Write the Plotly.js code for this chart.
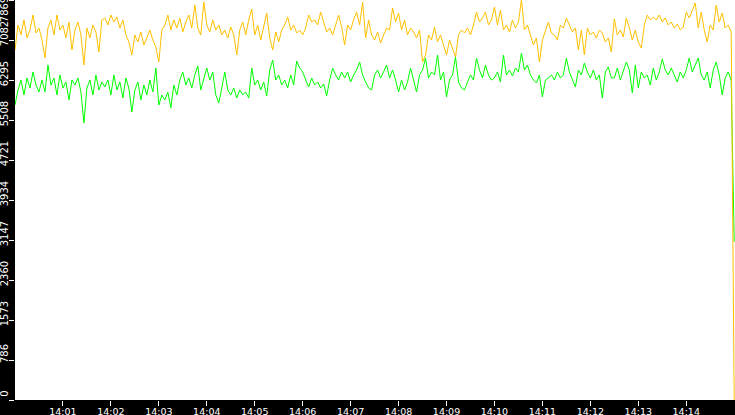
<!DOCTYPE html>
<html>
<head>
<meta charset="utf-8">
<script src="https://cdn.plot.ly/plotly-3.0.1.min.js"></script>
<style>
  html, body { margin: 0; padding: 0; background: #000; }
  #chart { width: 735px; height: 415px; }
</style>
</head>
<body>
<div id="chart"></div>
<script>
// Sampling of the two series (one reading every 3.75 s from 14:00:00)
const DAY = '2024-01-01';
const START_TIME = DAY + ' 14:00:00';
const END_TIME = DAY + ' 14:15:01';
const STEP_SECONDS = 3.75;

// Upper (amber) series values
const amberValues = [
  6886, 7377, 7181, 7476, 7122, 7279, 7574, 7220, 7318, 7082,
  6728, 7318, 7476, 7181, 7574, 7279, 7377, 7122, 7436, 6886,
  7279, 7436, 7181, 6590, 7318, 7122, 7377, 7240, 6846, 7476,
  7515, 7377, 7574, 7436, 7535, 7318, 7476, 7181, 7043, 6787,
  7181, 7043, 7240, 6984, 7122, 7279, 7082, 6944, 6649, 7279,
  7377, 7574, 7279, 7476, 7318, 7515, 7240, 7436, 7574, 7318,
  7771, 7318, 7181, 7830, 7377, 7240, 7476, 7279, 7377, 7181,
  7279, 7122, 7338, 7181, 6787, 7279, 7436, 7181, 7476, 7692,
  7181, 7377, 7082, 7318, 7613, 7122, 6886, 7240, 7043, 7279,
  7377, 7535, 7279, 7377, 7220, 7279, 7181, 7318, 7574, 7436,
  7476, 7377, 7633, 7436, 7240, 7318, 7181, 7377, 7574, 7338,
  6984, 7377, 7279, 7476, 7633, 7377, 7830, 7122, 7476, 7181,
  7082, 7240, 7023, 7181, 7318, 7279, 7712, 7436, 7613, 7279,
  7476, 7181, 7318, 7240, 7122, 7279, 6649, 6787, 7181, 7082,
  7338, 7043, 7181, 6984, 6787, 7082, 6925, 6748, 7181, 7279,
  7220, 7318, 7181, 7377, 7633, 7436, 7515, 7633, 7377, 7476,
  7731, 7377, 7672, 7279, 7377, 7240, 7476, 7318, 7436, 7869,
  7279, 7377, 7181, 6984, 7122, 6649, 7082, 7279, 7436, 7220,
  7181, 7082, 7377, 7318, 7515, 7377, 7240, 7318, 6886, 7279,
  6787, 7318, 7181, 7240, 7122, 7279, 7220, 7043, 7122, 6846,
  7495, 7181, 7279, 7141, 7515, 7318, 7082, 7279, 7043, 6925,
  7377, 7574, 7476, 7535, 7476, 7574, 7436, 7515, 7377, 7436,
  7318, 7397, 7279, 7338, 7633, 7515, 7672, 7810, 7318, 7633,
  7279, 7043, 7377, 7279, 7771, 7436, 7613, 7318, 7377, 7240,
  0
];

// Lower (green) series values
const greenValues = [
  5803, 6099, 6295, 6000, 6335, 6138, 6453, 6197, 6059, 6295,
  6059, 6590, 6197, 6335, 6000, 6394, 6138, 6256, 5902, 6295,
  6197, 6335, 6059, 5449, 6138, 6295, 6000, 6394, 6099, 6256,
  6157, 6295, 6000, 6394, 6099, 6256, 5941, 6335, 6138, 5666,
  6099, 6256, 5902, 6197, 6000, 6295, 6059, 6531, 5803, 6000,
  5902, 6059, 5744, 6197, 6000, 6295, 6453, 6197, 6335, 6138,
  6394, 6571, 6099, 6335, 6531, 6295, 6453, 6000, 5843, 6138,
  6453, 6099, 6000, 6138, 5941, 6099, 6000, 6059, 5941, 6531,
  6197, 6295, 6099, 6256, 5981, 6492, 6689, 6295, 6394, 6197,
  6295, 6138, 6394, 6197, 6669, 6531, 6453, 6295, 6157, 6335,
  6197, 6256, 6138, 6217, 5981, 6295, 6531, 6394, 6295, 6453,
  6335, 6453, 6256, 6394, 6492, 6649, 6394, 6256, 6138, 6099,
  6394, 6492, 6335, 6453, 6590, 6335, 6492, 6295, 6059, 6295,
  6099, 6256, 6531, 6295, 6059, 6394, 6492, 6728, 6335, 6453,
  6394, 6787, 6295, 6453, 5961, 6295, 6394, 6748, 6256, 6138,
  6099, 6256, 6394, 6295, 6728, 6492, 6335, 6590, 6394, 6295,
  6335, 6453, 6256, 6787, 6394, 6492, 6374, 6531, 6453, 6826,
  6492, 6590, 6394, 6295, 6236, 6394, 5961, 6295, 6335, 6394,
  6295, 6453, 6335, 6394, 6728, 6453, 6295, 6157, 6492, 6394,
  6630, 6453, 6335, 6492, 6295, 6394, 5941, 6453, 6551, 6335,
  6335, 6531, 6295, 6453, 6649, 6492, 6040, 6590, 6138, 6453,
  6335, 6394, 6197, 6531, 6295, 6453, 6708, 6492, 6394, 6531,
  6394, 6256, 6453, 6335, 6492, 6728, 6453, 6590, 6728, 6394,
  6295, 6453, 6138, 6492, 6649, 6394, 6000, 6335, 6453, 6295,
  3110
];

// Y axis tick labels (tenths of the maximum)
const yTickValues = [0, 786, 1573, 2360, 3147, 3934, 4721, 5508, 6295, 7082, 7869];
const Y_MAX = 7869;

// X axis tick labels (one per minute)
const xTickLabels = ['14:01', '14:02', '14:03', '14:04', '14:05', '14:06', '14:07',
                     '14:08', '14:09', '14:10', '14:11', '14:12', '14:13', '14:14'];

// Build timestamps for each sample
function buildTimes(count) {
    const t0 = new Date(START_TIME.replace(' ', 'T')).getTime();
    const pad = (n, w = 2) => String(n).padStart(w, '0');
    const times = [];
    for (let i = 0; i < count; i++) {
        const d = new Date(t0 + i * STEP_SECONDS * 1000);
        times.push(`${d.getFullYear()}-${pad(d.getMonth() + 1)}-${pad(d.getDate())} ` +
            `${pad(d.getHours())}:${pad(d.getMinutes())}:${pad(d.getSeconds())}.${pad(d.getMilliseconds(), 3)}`);
    }
    return times;
}

// Keep the top label inside the plot height (the rotated text reads upward,
// so trailing spaces push it down)
const NBSP = '\u00a0';
function yLabel(v) {
    if (v === Y_MAX) return String(v) + NBSP.repeat(10);
    return String(v);
}

const times = buildTimes(amberValues.length);

const tickFont = {
    family: 'DejaVu Sans, sans-serif',
    size: 10,
    color: '#ffffff'
};

const data = [
    {
        x: times,
        y: greenValues,
        type: 'scatter',
        mode: 'lines',
        line: { color: '#00ff00', width: 1 },
        hoverinfo: 'skip'
    },
    {
        x: times,
        y: amberValues,
        type: 'scatter',
        mode: 'lines',
        line: { color: '#ffc000', width: 1 },
        hoverinfo: 'skip'
    }
];

const layout = {
    width: 735,
    height: 415,
    margin: { l: 15, r: 0, t: 0, b: 15, pad: 0 },
    paper_bgcolor: '#000000',
    plot_bgcolor: '#ffffff',
    showlegend: false,
    xaxis: {
        type: 'date',
        range: [START_TIME, END_TIME],
        tickmode: 'array',
        tickvals: xTickLabels.map(t => DAY + ' ' + t + ':00'),
        ticktext: xTickLabels,
        ticks: 'outside',
        ticklen: 5,
        tickwidth: 1,
        tickcolor: '#ffffff',
        tickfont: { ...tickFont, size: 9.5 },
        ticklabelstandoff: -2,
        showgrid: false,
        zeroline: false,
        showline: false,
        automargin: false
    },
    yaxis: {
        range: [0, Y_MAX],
        tickmode: 'array',
        tickvals: yTickValues,
        ticktext: yTickValues.map(yLabel),
        tickangle: -90,
        ticks: 'outside',
        ticklen: 5,
        tickwidth: 1,
        tickcolor: '#ffffff',
        tickfont: tickFont,
        ticklabelstandoff: -3,
        ticklabelshift: -5,
        ticklabeloverflow: 'allow',
        showgrid: false,
        zeroline: false,
        showline: false,
        automargin: false
    }
};

Plotly.newPlot('chart', data, layout, { displayModeBar: false, staticPlot: true });
</script>
</body>
</html>
